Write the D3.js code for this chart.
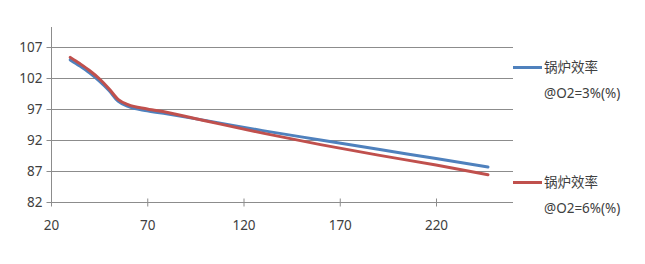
<!DOCTYPE html>
<html lang="zh">
<head>
  <meta charset="UTF-8">
  <title>锅炉效率</title>
  <script src="https://d3js.org/d3.v7.min.js"></script>
  <style>
    body { margin: 0; background: #fff; }
    text { font-family: "Noto Sans", "Noto Sans CJK SC", sans-serif; font-size: 13.5px; fill: #404040; }
    .grid line { stroke: #8c8c8c; stroke-width: 1; }
    .axis path, .axis line { stroke: #8c8c8c; }
    .series { fill: none; stroke-width: 3; stroke-linecap: round; stroke-linejoin: round; }
  </style>
</head>
<body>
  <div id="chart"></div>
  <script>
    const loads = [30, 35, 40, 45, 50, 55, 60, 70, 80, 100, 130, 160, 190, 220, 247];
    const eff3 = [104.9, 103.9, 102.8, 101.5, 100.0, 98.2, 97.4, 96.7, 96.2, 95.15, 93.5, 92.0, 90.5, 89.0, 87.65];
    const eff6 = [105.3, 104.3, 103.2, 101.9, 100.3, 98.5, 97.7, 97.0, 96.45, 95.1, 93.1, 91.25, 89.55, 87.95, 86.4];
    const xTicks = [20, 70, 120, 170, 220];
    const yTicks = [82, 87, 92, 97, 102, 107];
    const seriesNames = [["锅炉效率", "@O2=3%(%)"], ["锅炉效率", "@O2=6%(%)"]];
    const colors = ["#4f81bd", "#c0504d"];

    const W = 645, H = 264;
    const plot = { left: 51, right: 513, top: 27, bottom: 202 };

    const svg = d3.select("#chart").append("svg")
      .attr("width", W).attr("height", H);

    const x = d3.scaleLinear().domain([20, 260]).range([plot.left, plot.right]);
    const y = d3.scaleLinear().domain([82, 110.2]).range([plot.bottom, plot.top]);

    // horizontal gridlines
    svg.append("g").attr("class", "grid")
      .selectAll("line").data(yTicks.slice(1)).enter().append("line")
      .attr("x1", plot.left).attr("x2", plot.right)
      .attr("y1", d => Math.round(y(d)) + 0.5).attr("y2", d => Math.round(y(d)) + 0.5);

    // y axis
    const yAxis = svg.append("g").attr("class", "axis")
      .attr("transform", `translate(${plot.left + 0.5},0)`)
      .call(d3.axisLeft(y).tickValues(yTicks).tickSize(5).tickPadding(4).tickSizeOuter(0));
    yAxis.select(".domain").attr("d", `M0,${plot.top}V${plot.bottom}`);
    yAxis.selectAll(".tick").attr("transform", d => `translate(0,${Math.round(y(d)) + 0.5})`);
    yAxis.selectAll("text").attr("font-size", null).attr("font-family", null).attr("fill", null);

    // x axis
    const xAxis = svg.append("g").attr("class", "axis")
      .attr("transform", `translate(0,${plot.bottom + 0.5})`)
      .call(d3.axisBottom(x).tickValues(xTicks).tickSize(4).tickPadding(14).tickSizeOuter(0));
    xAxis.select(".domain").attr("d", `M${plot.left},0H${plot.right}`);
    xAxis.selectAll(".tick line").attr("y1", -4);
    xAxis.selectAll("text").attr("font-size", null).attr("font-family", null).attr("fill", null);

    // series
    const line = d3.line()
      .x(d => x(d[0]))
      .y(d => y(d[1]))
      .curve(d3.curveMonotoneX);

    [eff3, eff6].forEach((vals, i) => {
      svg.append("path")
        .attr("class", "series")
        .attr("stroke", colors[i])
        .attr("d", line(loads.map((l, j) => [l, vals[j]])));
    });

    // legend
    const legendY = [67, 182];
    seriesNames.forEach((names, i) => {
      const g = svg.append("g").attr("transform", `translate(513,${legendY[i]})`);
      g.append("line")
        .attr("x1", 0).attr("x2", 29).attr("y1", 0.5).attr("y2", 0.5)
        .attr("stroke", colors[i]).attr("stroke-width", 3);
      g.append("text").attr("x", 31).attr("y", 5).text(names[0]);
      g.append("text").attr("x", 31).attr("y", 31).text(names[1]);
    });
  </script>
</body>
</html>
